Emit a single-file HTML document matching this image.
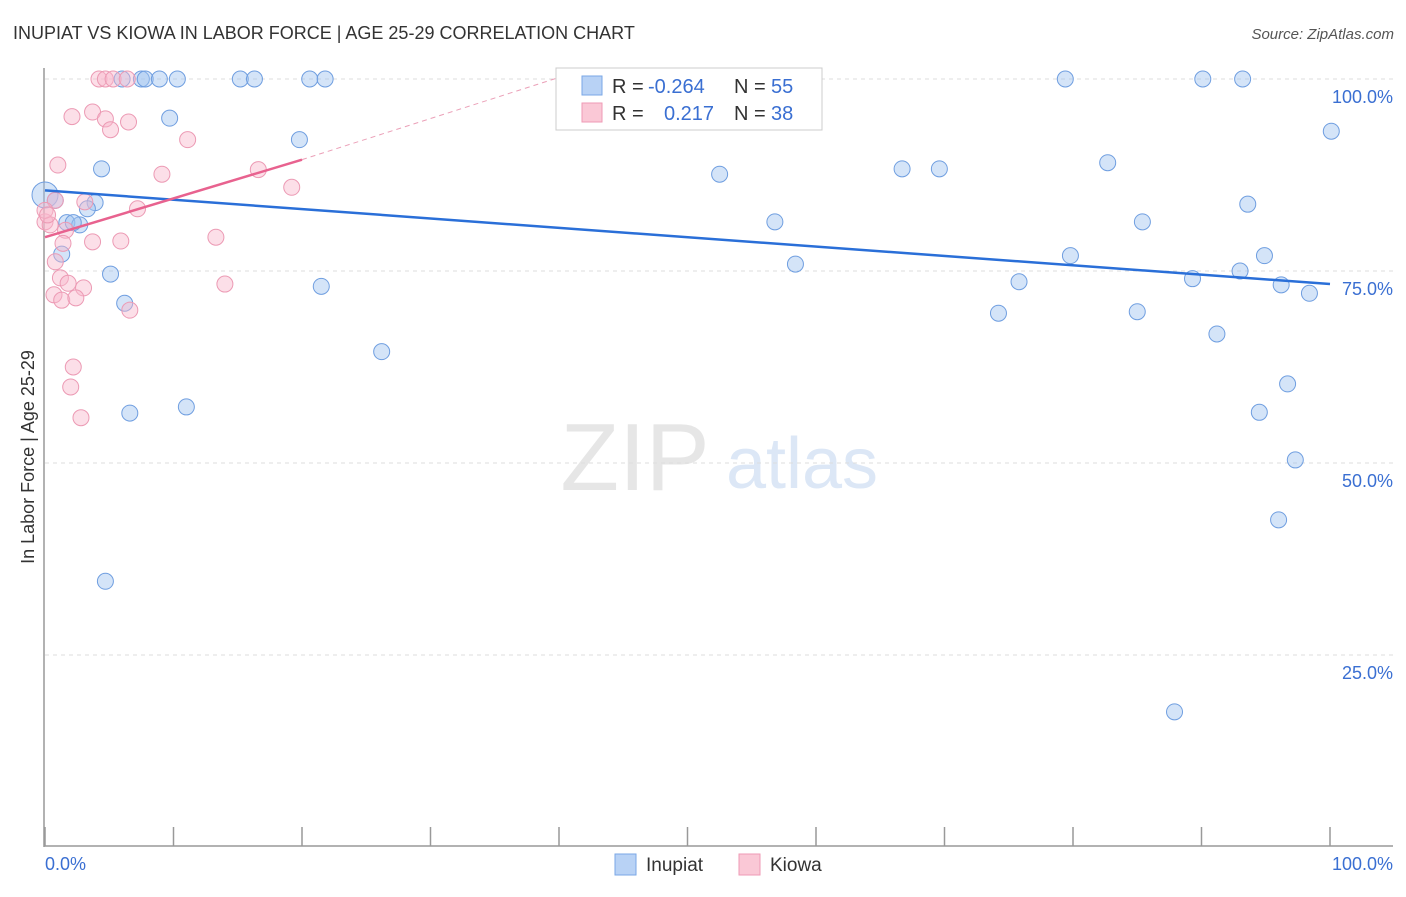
<!DOCTYPE html>
<html><head><meta charset="utf-8"><style>
body{margin:0;background:#fff;font-family:"Liberation Sans",sans-serif;}
svg text{font-family:"Liberation Sans",sans-serif;}
</style></head><body>
<svg id="chart" width="1406" height="892" xmlns="http://www.w3.org/2000/svg">
<text x="13" y="39" font-size="18" fill="#333">INUPIAT VS KIOWA IN LABOR FORCE | AGE 25-29 CORRELATION CHART</text>
<text x="1394" y="39" font-size="15" fill="#555" text-anchor="end" font-style="italic">Source: ZipAtlas.com</text>
<text transform="translate(34,457) rotate(-90)" font-size="18" fill="#333" text-anchor="middle">In Labor Force | Age 25-29</text>
<g><text x="635" y="490" font-size="96" fill="#e6e6e6" font-family="Liberation Serif" text-anchor="middle">ZIP</text><text x="802" y="488" font-size="72" fill="#dce7f6" text-anchor="middle">atlas</text></g>
<g id="grid"></g><g id="axes"></g><g id="trend"></g><g id="points"></g>
<g>
<rect x="556" y="68" width="266" height="62" fill="#fff" stroke="#ccc"/>
<rect x="582" y="76" width="20" height="19" fill="#b8d2f5" stroke="#7aa7e6"/>
<rect x="582" y="103" width="20" height="19" fill="#fac8d6" stroke="#ef9ab5"/>
<text x="612" y="93" font-size="20" fill="#333">R = </text><text x="648" y="93" font-size="20" fill="#3a6fd2">-0.264</text>
<text x="734" y="93" font-size="20" fill="#333">N = </text><text x="771" y="93" font-size="20" fill="#3a6fd2">55</text>
<text x="612" y="120" font-size="20" fill="#333">R = </text><text x="664" y="120" font-size="20" fill="#3a6fd2">0.217</text>
<text x="734" y="120" font-size="20" fill="#333">N = </text><text x="771" y="120" font-size="20" fill="#3a6fd2">38</text>
</g>
<g>
<rect x="615" y="854" width="21" height="21" fill="#b8d2f5" stroke="#7aa7e6"/>
<text x="646" y="871" font-size="19" fill="#333">Inupiat</text>
<rect x="739" y="854" width="21" height="21" fill="#fac8d6" stroke="#ef9ab5"/>
<text x="770" y="871" font-size="19" fill="#333">Kiowa</text>
</g>
</svg>
<script>
const yTicks=[100,75,50,25];
const yTickLabels=["100.0%","75.0%","50.0%","25.0%"];
const xTicks=[0,10,20,30,40,50,60,70,80,90,100];
const inupiatX=[6.0,7.5,7.8,8.9,10.3,15.2,16.3,20.6,21.8,79.4,90.1,93.2,56.4,9.7,19.8,4.4,100.1,52.5,66.7,69.6,82.7,0,0.8,3.9,3.3,1.7,2.7,2.2,56.8,85.4,93.6,1.3,79.8,94.9,58.4,5.1,93.0,89.3,75.8,21.5,96.2,98.4,6.2,74.2,85.0,91.2,26.2,96.7,6.6,11.0,94.5,97.3,96.0,4.7,87.9];
const inupiatY=[100,100,100,100,100,100,100,100,100,100,100,100,100,94.9,92.1,88.3,93.2,87.6,88.3,88.3,89.1,84.9,84.2,83.9,83.1,81.3,81.0,81.3,81.4,81.4,83.7,77.2,77.0,77.0,75.9,74.6,75.0,74.0,73.6,73.0,73.2,72.1,70.8,69.5,69.7,66.8,64.5,60.3,56.5,57.3,56.6,50.4,42.6,34.6,17.6];
const inupiatR=[8,8,8,8,8,8,8,8,8,8,8,8,8,8,8,8,8,8,8,8,8,13,8,8,8,8,8,8,8,8,8,8,8,8,8,8,8,8,8,8,8,8,8,8,8,8,8,8,8,8,8,8,8,8,8];
const kiowaX=[4.2,4.7,5.3,6.4,2.1,3.7,4.7,5.1,6.5,11.1,1.0,9.1,16.6,19.2,0.8,3.1,7.2,0,0.4,1.6,1.4,3.7,5.9,13.3,0.8,1.2,1.8,3.0,0.7,1.3,2.4,6.6,14.0,2.2,2.0,2.8,0,0.2];
const kiowaY=[100,100,100,100,95.1,95.7,94.8,93.4,94.4,92.1,88.8,87.6,88.2,85.9,84.2,84.0,83.1,81.4,81.0,80.3,78.6,78.8,78.9,79.4,76.2,74.1,73.4,72.8,71.9,71.2,71.5,69.9,73.3,62.5,59.9,55.9,82.9,82.3];
const inupiatTrendX=[0,100];const inupiatTrendY=[85.5,73.3];
const kiowaTrendX=[0,20];const kiowaTrendY=[79.4,89.5];const kiowaDashX=[20,40];const kiowaDashY=[89.5,100.2];
const NS="http://www.w3.org/2000/svg";
const X0=45,X1=1330,Y0=847,Y100=79;
const sx=v=>X0+(X1-X0)*v/100, sy=v=>Y0-(Y0-Y100)*v/100;
function mk(t,a,p){const e=document.createElementNS(NS,t);for(const k in a)e.setAttribute(k,a[k]);p.appendChild(e);return e;}
const grid=document.getElementById('grid'),axes=document.getElementById('axes'),trend=document.getElementById('trend'),pts=document.getElementById('points');
yTicks.forEach((t,i)=>{
 const l=mk('line',{x1:45,x2:1393,y1:sy(t),y2:sy(t),stroke:'#ddd','stroke-dasharray':'4,4'},grid);
 
 
 const tx=mk('text',{x:1393,y:sy(t)+24,'font-size':18,fill:'#3a6fd2','text-anchor':'end'},grid);tx.textContent=yTickLabels[i];
 
 
});
const ya=mk('line',{x1:44,x2:44,y1:68,y2:847,stroke:'#999','stroke-width':1.5},axes);


const xa=mk('line',{x1:44,x2:1393,y1:846,y2:846,stroke:'#999','stroke-width':1.5},axes);


xTicks.forEach(t=>{const l=mk('line',{x1:sx(t),x2:sx(t),y1:827,y2:846,stroke:'#999','stroke-width':1.5},axes);
 
 });
const xl0=mk('text',{x:45,y:870,'font-size':18,fill:'#3a6fd2'},axes);xl0.textContent='0.0%';


const xl1=mk('text',{x:1393,y:870,'font-size':18,fill:'#3a6fd2','text-anchor':'end'},axes);xl1.textContent='100.0%';


const kd=mk('line',{x1:sx(kiowaDashX[0]),y1:sy(kiowaDashY[0]),x2:sx(kiowaDashX[1]),y2:sy(kiowaDashY[1]),stroke:'#eba0b8','stroke-width':1,'stroke-dasharray':'5,4'},trend);


inupiatX.forEach((x,i)=>{const c=mk('circle',{cx:sx(x),cy:sy(inupiatY[i]),r:inupiatR[i],fill:'rgba(160,195,240,0.45)',stroke:'#6f9ee0','stroke-width':1},pts);
 
 });
kiowaX.forEach((x,i)=>{const c=mk('circle',{cx:sx(x),cy:sy(kiowaY[i]),r:8,fill:'rgba(248,185,205,0.45)',stroke:'#ec9ab4','stroke-width':1},pts);
 
 });
const bt=mk('line',{x1:sx(inupiatTrendX[0]),y1:sy(inupiatTrendY[0]),x2:sx(inupiatTrendX[1]),y2:sy(inupiatTrendY[1]),stroke:'#2a6fd8','stroke-width':2.5},pts);


const kt=mk('line',{x1:sx(kiowaTrendX[0]),y1:sy(kiowaTrendY[0]),x2:sx(kiowaTrendX[1]),y2:sy(kiowaTrendY[1]),stroke:'#e8628f','stroke-width':2.5},pts);


</script>
</body></html>
